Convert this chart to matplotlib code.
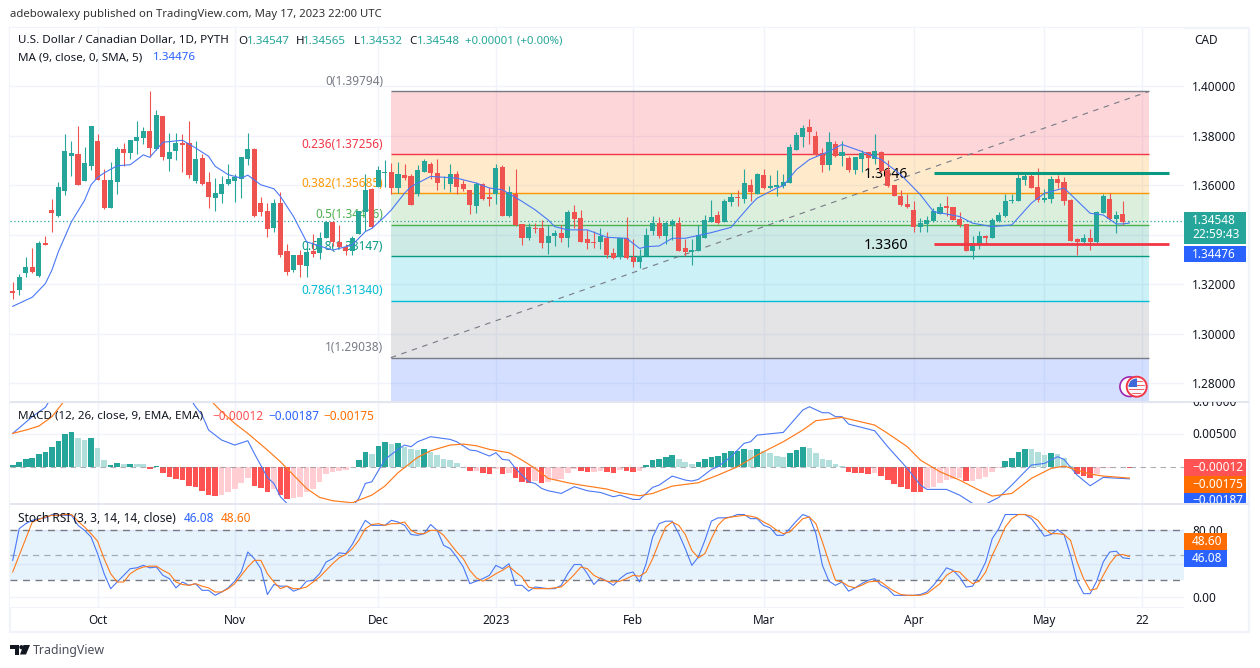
import numpy as np
import matplotlib
matplotlib.use("Agg")
import matplotlib.pyplot as plt
from matplotlib.patches import Rectangle, Circle, Polygon
from matplotlib.transforms import Affine2D, Bbox

opens = [1.3174,1.3178,1.3247,1.3271,1.3235,1.3369,1.3503,1.3478,1.3580,1.3722,
1.3730,1.3620,1.3681,1.3783,1.3624,1.3511,1.3616,1.3750,1.3734,1.3783,
1.3795,1.3823,1.3750,1.3884,1.3710,1.3742,1.3771,1.3771,1.3620,1.3714,
1.3616,1.3551,1.3568,1.3608,1.3620,1.3629,1.3710,1.3750,1.3531,1.3499,
1.3430,1.3531,1.3336,1.3259,1.3320,1.3275,1.3336,1.3328,1.3389,1.3454,
1.3373,1.3353,1.3336,1.3405,1.3495,1.3588,1.3596,1.3653,1.3657,1.3592,
1.3645,1.3641,1.3568,1.3657,1.3689,1.3653,1.3610,1.3608,1.3649,1.3608,
1.3584,1.3519,1.3608,1.3556,1.3568,1.3677,1.3478,1.3568,1.3446,1.3389,
1.3430,1.3430,1.3369,1.3397,1.3409,1.3389,1.3495,1.3470,1.3385,1.3373,
1.3373,1.3389,1.3328,1.3312,1.3389,1.3312,1.3292,1.3316,1.3418,1.3450,
1.3397,1.3442,1.3450,1.3348,1.3332,1.3336,1.3389,1.3454,1.3482,1.3454,
1.3535,1.3556,1.3547,1.3604,1.3568,1.3645,1.3592,1.3596,1.3600,1.3612,
1.3746,1.3799,1.3836,1.3803,1.3734,1.3685,1.3767,1.3722,1.3714,1.3665,
1.3710,1.3738,1.3710,1.3738,1.3665,1.3604,1.3560,1.3527,1.3503,1.3434,
1.3446,1.3458,1.3486,1.3519,1.3515,1.3466,1.3446,1.3336,1.3365,1.3397,
1.3389,1.3458,1.3478,1.3539,1.3539,1.3624,1.3641,1.3596,1.3543,1.3547,
1.3629,1.3616,1.3543,1.3385,1.3373,1.3389,1.3373,1.3491,1.3547,1.3466,
1.3486,1.34567]
closes = [1.3167,1.3231,1.3271,1.3251,1.3369,1.3361,1.3491,1.3596,1.3742,1.3734,
1.3604,1.3694,1.3840,1.3624,1.3511,1.3624,1.3750,1.3734,1.3787,1.3799,
1.3823,1.3754,1.3888,1.3718,1.3738,1.3771,1.3763,1.3645,1.3710,1.3608,
1.3556,1.3572,1.3608,1.3629,1.3637,1.3718,1.3750,1.3478,1.3495,1.3426,
1.3531,1.3320,1.3251,1.3320,1.3280,1.3332,1.3324,1.3389,1.3454,1.3373,
1.3353,1.3336,1.3389,1.3499,1.3584,1.3434,1.3665,1.3657,1.3592,1.3649,
1.3633,1.3523,1.3665,1.3702,1.3653,1.3612,1.3612,1.3649,1.3596,1.3588,
1.3523,1.3608,1.3547,1.3547,1.3673,1.3478,1.3576,1.3442,1.3389,1.3434,
1.3426,1.3369,1.3397,1.3409,1.3389,1.3495,1.3466,1.3373,1.3369,1.3369,
1.3397,1.3320,1.3308,1.3389,1.3308,1.3292,1.3316,1.3401,1.3450,1.3397,
1.3450,1.3458,1.3336,1.3332,1.3340,1.3401,1.3462,1.3474,1.3450,1.3539,
1.3556,1.3551,1.3612,1.3576,1.3649,1.3592,1.3600,1.3604,1.3616,1.3758,
1.3807,1.3832,1.3819,1.3726,1.3685,1.3775,1.3722,1.3738,1.3665,1.3718,
1.3734,1.3714,1.3742,1.3661,1.3600,1.3560,1.3523,1.3515,1.3434,1.3450,
1.3462,1.3499,1.3515,1.3511,1.3462,1.3442,1.3336,1.3369,1.3397,1.3389,
1.3462,1.3482,1.3539,1.3543,1.3633,1.3641,1.3592,1.3543,1.3551,1.3629,
1.3612,1.3539,1.3377,1.3373,1.3389,1.3373,1.3495,1.3560,1.3466,1.3482,
1.3454,1.34568]
highs = [1.3211,1.3243,1.3312,1.3348,1.3377,1.3397,1.3547,1.3616,1.3811,1.3779,
1.3840,1.3758,1.3840,1.3811,1.3669,1.3698,1.3758,1.3771,1.3787,1.3860,
1.3836,1.3982,1.3905,1.3884,1.3815,1.3815,1.3811,1.3860,1.3779,1.3730,
1.3657,1.3633,1.3641,1.3689,1.3649,1.3718,1.3815,1.3754,1.3556,1.3531,
1.3547,1.3576,1.3365,1.3320,1.3340,1.3365,1.3405,1.3413,1.3458,1.3458,
1.3442,1.3365,1.3397,1.3499,1.3649,1.3592,1.3681,1.3706,1.3693,1.3698,
1.3689,1.3649,1.3685,1.3710,1.3698,1.3710,1.3641,1.3689,1.3661,1.3624,
1.3584,1.3616,1.3612,1.3596,1.3689,1.3685,1.3600,1.3669,1.3446,1.3450,
1.3450,1.3462,1.3442,1.3422,1.3442,1.3503,1.3523,1.3503,1.3422,1.3418,
1.3430,1.3413,1.3348,1.3389,1.3474,1.3385,1.3344,1.3430,1.3478,1.3474,
1.3458,1.3466,1.3474,1.3385,1.3385,1.3442,1.3482,1.3543,1.3499,1.3547,
1.3572,1.3584,1.3669,1.3629,1.3653,1.3669,1.3645,1.3665,1.3649,1.3767,
1.3819,1.3844,1.3868,1.3823,1.3754,1.3819,1.3783,1.3779,1.3722,1.3718,
1.3746,1.3738,1.3811,1.3742,1.3706,1.3604,1.3584,1.3568,1.3539,1.3470,
1.3478,1.3511,1.3531,1.3560,1.3515,1.3495,1.3446,1.3397,1.3418,1.3401,
1.3470,1.3495,1.3568,1.3568,1.3649,1.3657,1.3649,1.3673,1.3588,1.3641,
1.3645,1.3637,1.3547,1.3389,1.3405,1.3426,1.3499,1.3568,1.3572,1.3499,
1.3539,1.34585]
lows = [1.3141,1.3158,1.3231,1.3247,1.3231,1.3361,1.3413,1.3474,1.3564,1.3641,
1.3604,1.3620,1.3665,1.3624,1.3507,1.3511,1.3568,1.3681,1.3710,1.3730,
1.3767,1.3718,1.3746,1.3706,1.3661,1.3706,1.3657,1.3633,1.3612,1.3604,
1.3511,1.3499,1.3531,1.3604,1.3535,1.3551,1.3685,1.3474,1.3478,1.3393,
1.3413,1.3312,1.3239,1.3251,1.3231,1.3231,1.3312,1.3304,1.3389,1.3357,
1.3348,1.3320,1.3320,1.3405,1.3418,1.3430,1.3596,1.3596,1.3568,1.3572,
1.3624,1.3523,1.3560,1.3657,1.3629,1.3584,1.3588,1.3576,1.3568,1.3580,
1.3486,1.3491,1.3543,1.3519,1.3527,1.3478,1.3474,1.3438,1.3361,1.3381,
1.3409,1.3348,1.3324,1.3357,1.3373,1.3353,1.3430,1.3373,1.3344,1.3348,
1.3344,1.3308,1.3304,1.3304,1.3304,1.3271,1.3267,1.3316,1.3401,1.3389,
1.3365,1.3381,1.3336,1.3316,1.3280,1.3336,1.3389,1.3454,1.3446,1.3454,
1.3519,1.3519,1.3531,1.3539,1.3568,1.3588,1.3588,1.3560,1.3592,1.3612,
1.3746,1.3758,1.3767,1.3722,1.3657,1.3665,1.3718,1.3681,1.3657,1.3649,
1.3657,1.3673,1.3689,1.3657,1.3596,1.3560,1.3519,1.3511,1.3413,1.3413,
1.3413,1.3454,1.3486,1.3478,1.3462,1.3434,1.3336,1.3304,1.3344,1.3365,
1.3389,1.3454,1.3474,1.3531,1.3539,1.3604,1.3592,1.3535,1.3535,1.3531,
1.3592,1.3523,1.3377,1.3320,1.3369,1.3340,1.3369,1.3491,1.3462,1.3409,
1.3442,1.34552]

ma_idx = [0,3,5,6,7,9,11,12,13,14,16,18,20,21,22,23,26,28,30,31,33,35,36,38,40,41,43,45,47,49,52,54,55,57,
58,60,61,64,68,71,73,75,78,80,82,83,85,88,91,94,96,97,99,101,103,107,110,113,114,117,
118,120,122,125,127,130,133,136,139,141,145,147,150,153,156,158,161,165,167,169,170,171]
ma_val = [1.3113,1.3150,1.3205,1.3259,1.3334,1.3455,1.3541,1.3604,1.3634,1.3652,1.3681,1.3685,1.3725,1.3715,1.3746,1.3776,1.3784,1.3753,1.3719,1.3679,1.3645,1.3631,1.3643,1.3604,1.3588,1.3557,1.3476,1.3374,1.3357,1.3340,1.3361,1.3415,1.3428,1.3476,
1.3503,1.3570,1.3597,1.3638,1.3631,1.3611,1.3591,1.3584,1.3537,1.3503,1.3462,1.3435,1.3422,1.3422,1.3392,1.3388,1.3347,1.3354,1.3357,1.3388,1.3388,1.3411,1.3432,1.3523,1.3550,1.3591,
1.3600,1.3665,1.3706,1.3739,1.3767,1.3739,1.3706,1.3645,1.3564,1.3496,1.3476,1.3449,1.3435,1.3442,1.3530,1.3570,1.3591,1.3489,1.3482,1.3446,1.3446,1.34496]
READ_OFFSET = 0.0002

fib_levels = [0, 0.236, 0.382, 0.5, 0.618, 0.786, 1]
fib_prices = [1.39794, 1.37256, 1.35685, 1.34416, 1.33147, 1.31340, 1.29038]
fib_colors = ['#787B86', '#F23645', '#FF9800', '#4CAF50', '#089981', '#00BCD4', '#787B86']

macd_hist = [.00026,.00072,.00118,.00134,.00196,.00227,.00304,.00397,.00505,.00536,
.00443,.00412,.00443,.00288,.00103,.00026,.00057,.00041,.00045,.00041,
.00041,-.00036,.00005,-.00098,-.00155,-.00191,-.00206,-.00299,-.00314,-.00376,
-.00438,-.00448,-.00438,-.00386,-.00345,-.00258,-.00170,-.00299,-.00330,-.00391,
-.00350,-.00438,-.00505,-.00479,-.00464,-.00386,-.00345,-.00237,-.00113,-.00082,
-.00062,-.00052,-.00010,.00108,.00227,.00196,.00319,.00381,.00350,.00371,
.00309,.00268,.00263,.00273,.00232,.00180,.00118,.00103,.00057,-.00005,
-.00067,-.00067,-.00098,-.00113,-.00036,-.00113,-.00098,-.00175,-.00237,-.00252,
-.00216,-.00252,-.00237,-.00206,-.00191,-.00098,-.00041,-.00067,-.00082,-.00082,
-.00067,-.00082,-.00098,-.00052,-.00067,-.00082,-.00067,.00026,.00108,.00118,
.00149,.00180,.00118,.00072,.00041,.00072,.00118,.00149,.00165,.00211,
.00242,.00245,.00273,.00258,.00273,.00242,.00211,.00165,.00149,.00211,
.00258,.00304,.00288,.00211,.00118,.00103,.00041,.00010,-.00088,-.00098,
-.00100,-.00113,-.00098,-.00144,-.00206,-.00268,-.00314,-.00345,-.00391,-.00395,
-.00330,-.00319,-.00258,-.00206,-.00191,-.00175,-.00221,-.00221,-.00191,-.00160,
-.00082,-.00021,.00088,.00134,.00227,.00273,.00273,.00227,.00180,.00211,
.00196,.00134,.00010,-.00113,-.00144,-.00175,-.00113,-.00026,-.00026,-.00008,
-.00010,-.00012]

macd_idx = [0,3,5,6,8,12,17,22,26,27,28,29,30,32,34,36,37,39,40,41,42,45,48,52,53,54,55,57,59,60,61,62,
64,67,68,70,71,73,74,75,76,77,78,79,80,81,82,84,86,88,90,92,93,95,96,98,99,101,103,104,105,107,108,110,112,113,114,118,121,122,124,125,126,
127,128,132,134,137,139,140,143,145,147,149,151,153,156,158,160,161,163,165,167,171]
macd_val = [.00515,.00773,.00917,.01082,.0129,.01545,.01545,.01494,.01236,.01082,.00927,.00798,.00567,.00412,.00335,.00402,.00206,-.00165,-.00258,-.00464,-.00567,-.00747,-.00747,-.00618,-.00489,-.00258,-.00232,.00113,.00268,.00335,.00309,.00386,
.00464,.00422,.00386,.00258,.00247,.00165,.00216,.00113,.00103,-.00026,-.00129,-.00232,-.00258,-.00335,-.00371,-.00412,-.00309,-.00371,-.00397,-.00464,-.00438,-.00505,-.00505,-.00319,-.00283,-.00144,-.00206,-.00221,-.00196,-.00041,0,.00155,.00361,.00386,.00489,.00530,.00876,.00927,.00834,.00834,.00773,
.00773,.00659,.00556,.00309,-.00026,-.00283,-.00350,-.00350,-.00438,-.00567,-.00577,-.00474,-.00283,.00026,.00051,.00155,.00113,-.00129,-.00294,-.00165,-.00187]
signal_idx = [0,2,4,6,8,13,20,26,30,32,34,36,39,41,43,45,47,49,52,55,57,59,62,
64,67,69,71,73,76,78,80,82,85,87,91,93,96,98,101,105,108,111,114,118,121,123,127,
132,134,137,139,142,145,148,150,153,156,159,161,165,167,171]
signal_val = [.00515,.00566,.00628,.00772,.0103,.0139,.0165,.0124,.01056,.0085,.0067,.00515,.00258,.00077,-.00129,-.00335,-.00474,-.00525,-.00556,-.00438,-.00299,-.00093,.00144,
.00247,.00335,.00350,.00324,.00268,.00216,.00103,-.00026,-.00180,-.00247,-.00283,-.00345,-.00402,-.00448,-.00412,-.00299,-.00247,-.00129,0,.00180,.00386,.00567,.00711,.00762,
.00644,.00515,.00309,.00103,-.00077,-.00206,-.00361,-.00453,-.00412,-.00180,-.00026,.00010,-.00113,-.00144,-.00175]

stoch_k = [44,82,88,92,94,95,99,98,98,98,
86,80,72,52,28,10,18,26,34,35,
38,35,36,26,22,11,18,14,16,8,
8,2,6,11,19,30,54,46,34,3,
15,13,13,7,10,19,20,28,42,46,
53,52,63,78,92,86,86,86,92,90,
86,75,74,
76,87,80,62,58,48,36,
16,19,22,26,38,34,40,14,14,7,
12,11,10,10,14,28,39,39,28,15,
23,19,14,22,28,30,18,40,72,88,
91,91,76,58,38,48,68,91,95,95,
96,99,99,94,94,86,83,74,74,82,
91,99,96,76,38,19,14,
18,7,11,
16,20,22,14,10,2,2,2,2,3,
6,14,24,35,32,24,12,13,26,42,
70,82,99,99,99,99,94,84,73,75,
81,75,50,19,4,4,19,42,54,55,
47,46.08]
stoch_d = [30,50,70,90,93,96,98,98,99,99,
91,84,76,67,46,28,18,18,28,33,
36,37,37,32,28,18,15,14,16,13,
11,6,6,10,16,26,36,44,44,28,
18,10,13,10,10,12,18,24,32,40,
47,51,58,68,82,87,88,86,88,88,
90,80,76,
76,80,80,74,64,54,46,
32,23,19,23,28,32,37,30,24,12,
10,10,10,11,12,19,27,36,34,26,
22,19,18,19,22,26,25,30,46,66,
84,90,86,75,56,47,52,70,86,94,
96,97,98,97,95,90,86,80,76,78,
86,94,96,88,66,42,20,
18,13,11,
14,18,19,18,12,7,3,2,2,2,
4,10,16,26,31,30,22,16,19,30,
50,66,84,94,99,99,97,92,82,76,
76,75,68,42,22,8,10,26,40,50,
51,48.60]

month_idx = [13, 34, 56, 74, 95, 115, 138, 158, 173]
month_labels = ['Oct', 'Nov', 'Dec', '2023', 'Feb', 'Mar', 'Apr', 'May', '22']
price_ticks = [1.28, 1.30, 1.32, 1.34, 1.36, 1.38, 1.40]
macd_ticks = [0.005, 0.01]
stoch_ticks = [0, 40, 80]
last_price = 1.34548
resistance = 1.3648
support = 1.3364

W, H = 1260, 668
FONT = ['Noto Sans', 'DejaVu Sans']
plt.rcParams['font.family'] = FONT
INK = '#131722'
GREEN, RED = '#26A69A', '#EF5350'
BLUE, ORANGE = '#2962FF', '#FF6D00'
GRID = '#F0F3FA'
fs = 8.5

fig = plt.figure(figsize=(W / 100, H / 100), dpi=100, facecolor='white')
px = Affine2D().scale(1 / W, -1 / H).translate(0, 1) + fig.transFigure

def pane(top, bottom):
    ax = fig.add_axes([10 / W, 1 - bottom / H, (1184 - 10) / W, (bottom - top) / H])
    ax.set_xlim(-0.413, 179.37)
    for s in ax.spines.values():
        s.set_visible(False)
    ax.set_xticks(month_idx)
    ax.tick_params(axis='both', length=0, labelsize=fs, labelcolor=INK)
    ax.tick_params(axis='x', labelbottom=False)
    ax.yaxis.tick_right()
    ax.tick_params(axis='y', pad=6)
    ax.grid(True, color=GRID, lw=1)
    ax.set_axisbelow(True)
    return ax

def label(x, y, s, color=INK, size=fs, ha='left', va='center', **kw):
    return fig.text(x, y, s, transform=px, color=color, fontsize=size, ha=ha, va=va, **kw)

# main pane
ax = pane(28, 401)
ax.set_ylim(1.27286, 1.42355)
ax.set_yticks(price_ticks)
ax.set_yticklabels(['' if t == 1.34 else '%.5f' % t for t in price_ticks])
x0, x1 = 58 - 0.1, 174
edges = fib_prices + [1.27286]
fill_cols = fib_colors[1:] + ['#2962FF']
for i in range(len(fill_cols)):
    ax.fill_between([x0, x1], edges[i], edges[i + 1], color=fill_cols[i], alpha=0.2, lw=0, zorder=1)
for lev, p, c in zip(fib_levels, fib_prices, fib_colors):
    ax.plot([x0, x1], [p, p], color=c, lw=1.0, zorder=2, solid_capstyle='butt')
    ax.annotate('%g(%.5f)' % (lev, p), (x0, p), xytext=(-5.5, 7.0), textcoords='offset points',
                color=c, fontsize=fs, ha='right', va='center', zorder=2)
ax.plot([x0, x1], [fib_prices[-1], fib_prices[0]], color='#787B86', lw=0.8, ls=(0, (5, 5)), zorder=2)
ax.axhline(last_price, color=GREEN, lw=0.9, ls=(0, (1, 2)), zorder=2)
ax.annotate('1.3646', (130.3, 1.3643), color='black', fontsize=10.2, ha='left', va='center', zorder=2.5, fontweight='medium')
ax.annotate('1.3360', (130.3, 1.3358), color='black', fontsize=10.2, ha='left', va='center', zorder=2.5, fontweight='medium')

idx = np.arange(len(opens))
o, h, l, c = (np.array(a) - READ_OFFSET for a in (opens, highs, lows, closes))
col = np.where(c >= o, GREEN, RED)
ax.vlines(idx, l, h, colors=col, lw=0.8, zorder=3)
body = np.maximum(np.abs(c - o), 0.0002)
ax.bar(idx, body, bottom=np.minimum(o, c), width=0.78, color=col, lw=0, zorder=3)
ax.plot(ma_idx, np.array(ma_val) - READ_OFFSET, color='#4A78F5', lw=0.8, zorder=4)

res_x = [141.1, 177.1]
ax.plot(res_x, [resistance, resistance], color='#089981', lw=2.2, zorder=5, solid_capstyle='butt')
ax.plot(res_x, [support, support], color='#F23645', lw=2.0, zorder=5, solid_capstyle='butt')

# MACD pane
ax2 = pane(402, 503)
ax2.set_ylim(-0.0056, 0.00998)
ax2.set_yticks(macd_ticks)
ax2.set_yticklabels([])
hist = np.array(macd_hist)
prev = np.r_[hist[0], hist[:-1]]
hcol = []
for v, p in zip(hist, prev):
    if v >= 0:
        hcol.append('#26A69A' if v > p or v == hist[0] else '#B2DFDB')
    else:
        hcol.append('#FF5252' if v < p else '#FFCDD2')
ax2.bar(np.arange(len(hist)), hist, width=0.86, color=hcol, lw=0, zorder=2)
ax2.axhline(0, color='#787B86', lw=0.8, ls=(0, (5, 4)), alpha=0.6, zorder=3)
ax2.plot(macd_idx, macd_val, color='#4A78F5', lw=0.8, zorder=4)
ax2.plot(signal_idx, signal_val, color='#FF7A1A', lw=0.85, zorder=4)

# Stoch RSI pane
ax3 = pane(505, 607)
ax3.set_ylim(-12, 110.4)
ax3.set_yticks(stoch_ticks)
ax3.set_yticklabels(['0.00', '', '80.00'])
ax3.axhspan(20, 80, color='#2196F3', alpha=0.11, lw=0, zorder=1)
ax3.axhline(80, color='#787B86', lw=1.0, ls=(0, (5, 4)), zorder=2)
ax3.axhline(20, color='#787B86', lw=1.0, ls=(0, (5, 4)), zorder=2)
ax3.axhline(50, color='#787B86', lw=0.9, ls=(0, (5, 4)), alpha=0.6, zorder=2)
ax3.plot(np.arange(len(stoch_k)), stoch_k, color='#4A78F5', lw=0.8, zorder=4)
ax3.plot(np.arange(len(stoch_d)), stoch_d, color='#FF7A1A', lw=0.8, zorder=4)
ax3.tick_params(axis='x', labelbottom=True, pad=5)
ax3.set_xticklabels(month_labels)
ax3.get_xticklabels()[3].set_fontweight('bold')

# frame and separators
fig.add_artist(Rectangle((9.5, 27.5), 1239.5, 604.5, transform=px, fill=False, ec=GRID, lw=1.6, zorder=-1))
for yy in (401.8, 503.8):
    fig.add_artist(Rectangle((10, yy - 0.7), 1239, 1.4, transform=px, fc='#E3E6EE', lw=0, zorder=1))
fig.add_artist(Rectangle((10, 606.6), 1174, 0.9, transform=px, fc=GRID, lw=0, zorder=1))

# header and legends
label(10, 15, 'adebowalexy published on TradingView.com, May 17, 2023 22:00 UTC', color='#333333', size=8.17)
label(18, 41, 'U.S. Dollar / Canadian Dollar, 1D, PYTH', size=8.35)
for x, letter, xv, val in [(238, 'O', 247, '1.34547'), (296, 'H', 303, '1.34565'),
                           (354, 'L', 360, '1.34532'), (409, 'C', 417, '1.34548')]:
    label(x, 41, letter, size=8.35)
    label(xv, 41, val, color=GREEN, size=8.35)
label(465, 41, '+0.00001 (+0.00%)', color=GREEN, size=8.2)
label(18, 58, 'MA (9, close, 0, SMA, 5)', size=8.35)
label(153, 58, '1.34476', color=BLUE, size=8.35)
label(1194, 40, 'CAD')
label(18, 416, 'MACD (12, 26, close, 9, EMA, EMA)', size=8.4)
label(212, 416, '\u22120.00012', color='#FF5252')
label(268, 416, '\u22120.00187', color=BLUE)
label(323, 416, '\u22120.00175', color=ORANGE)
label(18, 519, 'Stoch RSI (3, 3, 14, 14, close)', size=8.6)
label(184, 519, '46.08', color=BLUE)
label(221, 519, '48.60', color=ORANGE)
label(1192, 434.5, '0.00500')
cut = label(1192, 402, '0.01000')
box = Bbox.from_extents(1184, H - 503, 1260, H - 402)
cut.set_clip_box(box)
cut.set_clip_on(True)

def tag(y0, y1, x1, color, text, ty=None, bold=True):
    r = Rectangle((1184, y0), x1 - 1184, y1 - y0, transform=px, fc=color, lw=0, zorder=5)
    fig.add_artist(r)
    t = label(1192, (y0 + y1) / 2 if ty is None else ty, text, color='white',
              fontweight='bold' if bold else 'normal', zorder=6)
    return t

tag(212, 244, 1246, '#26A69A', '1.34548', ty=221)
label(1192, 235, '22:59:43', color='white', zorder=6)
tag(246, 262, 1246, BLUE, '1.34476')
tag(459, 476, 1246, '#FF5252', '\u22120.00012')
tag(476, 493, 1246, ORANGE, '\u22120.00175')
t = tag(493, 503, 1246, BLUE, '\u22120.00187', ty=501)
t.set_clip_box(box)
t.set_clip_on(True)
tag(533, 550, 1227, ORANGE, '48.60')
tag(550, 567, 1227, BLUE, '46.08')

# small flag badge
fig.add_artist(Circle((1129.7, 386.7), 9.8, transform=px, fc='white', ec='#9C27B0', lw=1.2, zorder=5))
fig.add_artist(Circle((1136.7, 386.7), 10, transform=px, fc='white', ec='#F23645', lw=1.4, zorder=5))
flag_clip = Circle((1136.7, 386.7), 8.2, transform=px, fc='#F7F8FC', lw=0, zorder=5)
fig.add_artist(flag_clip)
for yy in (380.5, 384.5, 388.5, 392.5):
    s = Rectangle((1128, yy), 18, 1.8, transform=px, fc='#F0606A', lw=0, zorder=6)
    fig.add_artist(s)
    s.set_clip_path(flag_clip)
cn = Rectangle((1128, 378), 9, 9, transform=px, fc='#3D6AD8', lw=0, zorder=6.5)
fig.add_artist(cn)
cn.set_clip_path(flag_clip)

# footer logo
fig.add_artist(Polygon([(10, 645), (19.3, 645), (19.3, 654.5), (14.7, 654.5), (14.7, 649), (10, 649)],
                       transform=px, fc=INK, lw=0, zorder=5))
fig.add_artist(Circle((21.4, 647.2), 2.1, transform=px, fc=INK, lw=0, zorder=5))
fig.add_artist(Polygon([(23.5, 645), (30, 645), (26, 654.5), (20, 654.5)], transform=px, fc=INK, lw=0, zorder=5))
label(33, 650.5, 'TradingView', color='#4A4E59', size=8.9)

fig.savefig('out.png', dpi=100, facecolor='white')
